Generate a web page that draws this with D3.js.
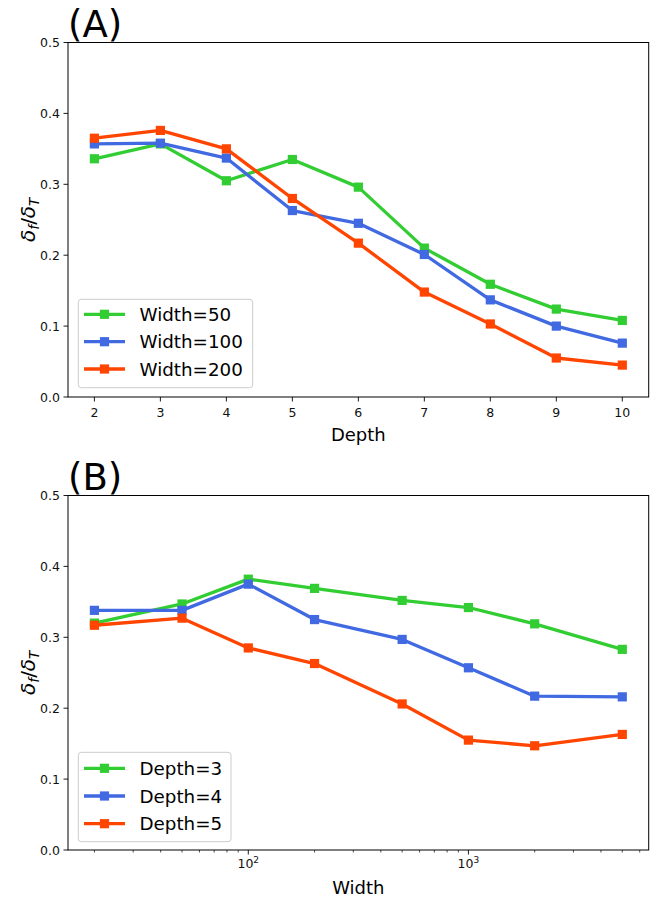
<!DOCTYPE html>
<html><head><meta charset="utf-8">
<script src="https://cdn.jsdelivr.net/npm/d3@7"></script>
<style>body{margin:0;background:#fff;} text{font-family:"DejaVu Sans",sans-serif;}</style>
</head><body>
<svg id="c" width="663" height="900"></svg>
<script>
const depths = [2,3,4,5,6,7,8,9,10];
const width50  = [0.336,0.357,0.305,0.335,0.296,0.210,0.159,0.124,0.108];
const width100 = [0.357,0.358,0.337,0.263,0.245,0.201,0.137,0.100,0.076];
const width200 = [0.365,0.376,0.350,0.280,0.217,0.148,0.103,0.055,0.045];
const seriesA = [{name:"Width=50",vals:width50},{name:"Width=100",vals:width100},{name:"Width=200",vals:width200}];

const widths = [20,50,100,200,500,1000,2000,5000];
const depth3 = [0.320,0.347,0.382,0.369,0.352,0.342,0.319,0.283];
const depth4 = [0.338,0.338,0.375,0.325,0.297,0.257,0.217,0.216];
const depth5 = [0.317,0.327,0.285,0.263,0.206,0.155,0.147,0.163];
const seriesB = [{name:"Depth=3",vals:depth3},{name:"Depth=4",vals:depth4},{name:"Depth=5",vals:depth5}];

const yTicks = [0.0,0.1,0.2,0.3,0.4,0.5];
const colors = ["#32cd32","#4169e1","#ff4500"];

const svg = d3.select("#c");
const L = 68, R = 648.7;

function panel(opt){
  const g = svg.append("g");
  const y = d3.scaleLinear().domain([0,0.5]).range([opt.bottom,opt.top]);
  const x = opt.x;
  yTicks.forEach(t=>{
    g.append("line").attr("x1",L-4.5).attr("x2",L).attr("y1",y(t)).attr("y2",y(t)).attr("stroke","#000").attr("stroke-width",0.9);
    g.append("text").attr("x",L-8).attr("y",y(t)+4.5).attr("text-anchor","end").attr("font-size",12.5).attr("fill","#111").text(t.toFixed(1));
  });
  opt.xAxis(g,x,opt.bottom);
  const line = d3.line().x((d,i)=>x(opt.xs[i])).y(d=>y(d));
  opt.series.forEach((s,k)=>{
    g.append("path").attr("d",line(s.vals)).attr("fill","none").attr("stroke",colors[k]).attr("stroke-width",3.3).attr("stroke-linejoin","round");
    g.selectAll(null).data(s.vals).enter().append("rect")
      .attr("x",(d,i)=>x(opt.xs[i])-4.6).attr("y",d=>y(d)-4.6).attr("width",9.2).attr("height",9.2).attr("fill",colors[k]);
  });
  g.append("rect").attr("x",L).attr("y",opt.top).attr("width",R-L).attr("height",opt.bottom-opt.top).attr("fill","none").attr("stroke","#000").attr("stroke-width",1);
  const lg = opt.legend;
  g.append("rect").attr("x",78.3).attr("y",lg.top).attr("width",lg.w).attr("height",lg.h).attr("rx",3)
    .attr("fill","#fff").attr("fill-opacity",0.8).attr("stroke","#ccc").attr("stroke-width",1);
  opt.series.forEach((s,k)=>{
    const yy = lg.rows[k];
    g.append("line").attr("x1",84).attr("x2",125).attr("y1",yy).attr("y2",yy).attr("stroke",colors[k]).attr("stroke-width",3.3);
    g.append("rect").attr("x",104.5-4.6).attr("y",yy-4.6).attr("width",9.2).attr("height",9.2).attr("fill",colors[k]);
    g.append("text").attr("x",139.5).attr("y",yy+6.5).attr("font-size",18.3).attr("fill","#000").text(s.name);
  });
  g.append("text").attr("x",68).attr("y",opt.top-6).attr("font-size",37).attr("fill","#000").text(opt.title);
  const yl = g.append("text").attr("transform",`translate(35,${(opt.top+opt.bottom)/2}) rotate(-90)`).attr("text-anchor","middle").attr("font-size",20).attr("fill","#000");
  yl.append("tspan").attr("font-style","italic").text("δ");
  yl.append("tspan").attr("font-style","italic").attr("font-size",13.5).attr("dy",3.5).text("f");
  yl.append("tspan").attr("dy",-3.5).text("/");
  yl.append("tspan").attr("font-style","italic").text("δ");
  yl.append("tspan").attr("font-style","italic").attr("font-size",13.5).attr("dy",3.5).text("T");
  g.append("text").attr("x",(L+R)/2).attr("y",opt.xlabY).attr("text-anchor","middle").attr("font-size",18).attr("fill","#000").text(opt.xlabel);
}

const xA = d3.scaleLinear().domain([1.6,10.4]).range([L,R]);
panel({top:42.5,bottom:397,x:xA,xs:depths,series:seriesA,title:"(A)",xlabel:"Depth",xlabY:441,
  legend:{top:299.3,w:174.4,h:88.4,rows:[314.3,341.7,369]},
  xAxis:(g,x,b)=>{
    depths.forEach(t=>{
      g.append("line").attr("x1",x(t)).attr("x2",x(t)).attr("y1",b).attr("y2",b+4.5).attr("stroke","#000").attr("stroke-width",0.9);
      g.append("text").attr("x",x(t)).attr("y",b+19.5).attr("text-anchor","middle").attr("font-size",12.5).attr("fill","#111").text(t);
    });
  }});

const xB = d3.scaleLog().domain([Math.pow(10,1.181),Math.pow(10,3.819)]).range([L,R]);
panel({top:495.5,bottom:850,x:xB,xs:widths,series:seriesB,title:"(B)",xlabel:"Width",xlabY:894,
  legend:{top:752.3,w:152.7,h:89.4,rows:[768.3,796,823.7]},
  xAxis:(g,x,b)=>{
    const ticks = xB.ticks().filter(t=>t>=x.domain()[0] && t<=x.domain()[1]);
    ticks.forEach(t=>{
      const major = Math.abs(Math.log10(t)-Math.round(Math.log10(t)))<1e-9;
      g.append("line").attr("x1",x(t)).attr("x2",x(t)).attr("y1",b).attr("y2",b+(major?4.5:2.5)).attr("stroke","#000").attr("stroke-width",major?0.9:0.7);
      if(major){
        const tx = g.append("text").attr("x",x(t)).attr("y",b+17.5).attr("text-anchor","middle").attr("font-size",12.5).attr("fill","#111");
        tx.append("tspan").text("10");
        tx.append("tspan").attr("font-size",9).attr("dy",-5).text(Math.round(Math.log10(t)));
      }
    });
  }});
</script>
</body></html>
